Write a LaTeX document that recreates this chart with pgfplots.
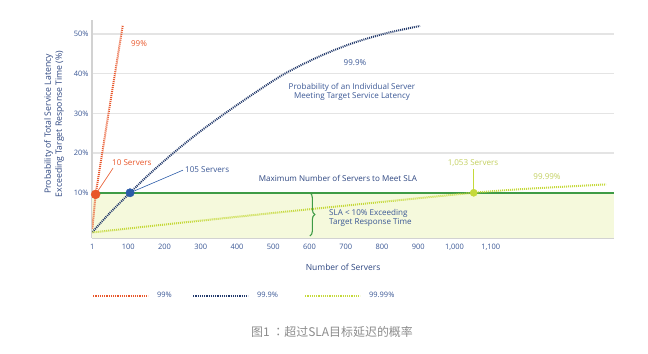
\documentclass[border=0pt]{standalone}
\usepackage{fontspec}
\setmainfont{Open Sans}
\newfontfamily\cjk{Noto Sans CJK SC}
\newfontfamily\cjktc{Noto Sans CJK TC}
\usepackage{pgfplots}
\pgfplotsset{compat=1.18}
\usetikzlibrary{decorations.pathreplacing}
\definecolor{cred}{HTML}{E8562A}
\definecolor{cnavy}{HTML}{22396B}
\definecolor{cblue}{HTML}{2B5BA8}
\definecolor{cyel}{HTML}{C5D93A}
\definecolor{cyeltext}{HTML}{C2CF5E}
\definecolor{cgreen}{HTML}{3E9B45}
\definecolor{cfill}{HTML}{F5F9DC}
\definecolor{textblue}{HTML}{3A5795}
\definecolor{labelblue}{HTML}{2C4580}
\definecolor{gridgray}{HTML}{E4E4E4}
\definecolor{axisgray}{HTML}{D2D2D2}
\definecolor{capgray}{HTML}{8C8C8C}
\begin{document}
\begin{tikzpicture}[x=1bp,y=1bp]
\path[use as bounding box] (0,0) rectangle (648,353);
\begin{axis}[
  at={(92bp,115.5bp)}, anchor=south west,
  scale only axis, width=522bp, height=217.5bp,
  xmin=0, xmax=1440, ymin=-1.26, ymax=53.5,
  axis x line*=bottom, axis y line*=left,
  axis line style={draw=axisgray, line width=2.2bp, -},
  xtick={1,100,200,300,400,500,600,700,800,900,1000,1100},
  xticklabels={1,100,200,300,400,500,600,700,800,900,{1,000},{1,100}},
  ytick={10,20,30,40,50},
  yticklabels={10\%,20\%,30\%,40\%,50\%},
  major tick length=0pt,
  ymajorgrids, grid style={draw=gridgray, line width=1.5bp},
  tick label style={font=\fontsize{7.5}{8}\selectfont, text=textblue},
  xticklabel style={yshift=-3bp},
  xlabel={Number of Servers},
  xlabel style={at={(axis description cs:0.481,-0.1356)}, anchor=center, font=\fontsize{8.5}{9}\selectfont, text=labelblue},
  ylabel={Probability of Total Service Latency\\Exceeding Target Response Time (\%)},
  ylabel style={at={(axis description cs:-0.0728,0.522)}, anchor=center, align=center, font=\fontsize{8.7}{11}\selectfont, text=labelblue},
  legend style={at={(axis description cs:0.0,-0.269)}, anchor=west, draw=none, fill=none,
    font=\fontsize{7.5}{8}\selectfont, inner sep=0pt,
    /tikz/every even column/.append style={column sep=0pt}},
  legend columns=3,
]
% light fill under SLA
\addplot[draw=none, fill=cfill, forget plot] coordinates {(0,-1.26) (1440,-1.26) (1440,10) (0,10)} -- cycle;
% SLA line
\addplot[cgreen, line width=1.8bp, forget plot] coordinates {(0,10) (1440,10)};
% 99%
\addplot[color=cred, line width=2bp, dash pattern=on 1bp off 1bp,
  legend image code/.code={\draw[cred, line width=2bp, dash pattern=on 1.2bp off 1bp] (0bp,0bp) -- (55bp,0bp);}]
  coordinates {(1,1) (10,9.6) (47,30.8) (85,52.2)};
\addlegendentry{\makebox[39bp][l]{\hspace{6bp}\textcolor{textblue}{99\%}}}
% 99.9%
\addplot[color=cnavy, line width=2bp, dash pattern=on 1bp off 1bp, smooth,
  legend image code/.code={\draw[cnavy, line width=2bp, dash pattern=on 1.2bp off 1bp] (0bp,0bp) -- (55bp,0bp);}]
  coordinates {
 (1,0.1) (50,5) (105,10) (150,14.0) (200,18.1) (250,21.95) (300,25.55) (367,30.0)
 (450,35.2) (532,40.0) (629,44.4) (720,47.7) (813,50.2) (905,52.0)};
\addlegendentry{\makebox[51bp][l]{\hspace{6bp}\textcolor{textblue}{99.9\%}}}
% 99.99%
\addplot[color=cyel, line width=2bp, dash pattern=on 1bp off 1bp, smooth,
  legend image code/.code={\draw[cyel, line width=2bp, dash pattern=on 1.2bp off 1bp] (0bp,0bp) -- (55bp,0bp);}]
  coordinates {
 (1,0.01) (200,2.0) (400,3.95) (541,5.3) (800,7.7) (1053,10) (1200,11.0) (1418,12.1)};
\addlegendentry{\hspace{6bp}\textcolor{textblue}{99.99\%}}
% leaders
\addplot[cred, line width=0.6bp, forget plot] coordinates {(10,9.6) (58,16.2)};
\addplot[cblue, line width=0.6bp, forget plot] coordinates {(105,10) (251,15.7)};
\addplot[cyel, line width=0.8bp, forget plot] coordinates {(1053,10) (1053,16.0)};
% points
\addplot[only marks, mark=*, mark size=4.5bp, color=cred, forget plot] coordinates {(10,9.6)};
\addplot[only marks, mark=*, mark size=4.2bp, color=cblue, forget plot] coordinates {(105,10)};
\addplot[only marks, mark=*, mark size=3.6bp, color=cyel, forget plot] coordinates {(1053,10)};
% brace
\draw[decorate, decoration={brace, amplitude=5bp}, cgreen, line width=1.1bp] (axis cs:601,10) -- (axis cs:601,-0.9);
\end{axis}
\begin{scope}[every node/.style={font=\fontsize{8.1}{9}\selectfont, inner sep=0pt}]
\node[text=cred] at (139,309) {99\%};
\node[text=textblue] at (355,290) {99.9\%};
\node[text=textblue, align=center] at (352,261.5) {Probability of an Individual Server\\Meeting Target Service Latency};
\node[text=cred, anchor=west] at (112,190) {10 Servers};
\node[text=textblue, anchor=west] at (185,183) {105 Servers};
\node[text=labelblue] at (338,175) {Maximum Number of Servers to Meet SLA};
\node[text=cyeltext] at (473,190) {1,053 Servers};
\node[text=cyeltext] at (547,176) {99.99\%};
\node[text=textblue, anchor=west, align=left] at (329,135) {SLA < 10\% Exceeding\\Target Response Time};
\end{scope}
\node[font=\fontsize{12}{13}\selectfont, text=capgray] at (332,21) {\cjk 图1 {\cjktc ：}超过SLA目标延迟的概率};
\end{tikzpicture}
\end{document}
